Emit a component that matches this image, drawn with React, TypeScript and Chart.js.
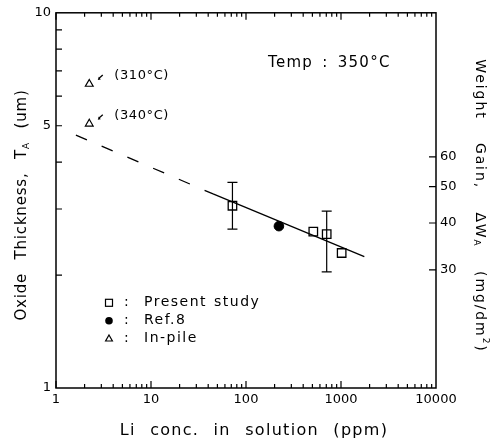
import React, { useEffect, useRef } from 'react';
import { Chart, registerables } from 'chart.js';

Chart.register(...registerables);

// ---------- data ----------
const presentX = [72, 511, 707, 1016];
const presentY = [3.06, 2.61, 2.57, 2.29];
const presentErrLow: (number | null)[] = [2.65, null, 2.04, null];
const presentErrHigh: (number | null)[] = [3.53, null, 2.96, null];

const ref8X = [222];
const ref8Y = [2.7];

const inPileX = [2.24, 2.24];
const inPileY = [6.46, 5.06];
const inPileLabels = ['(310°C)', '(340°C)'];

const fitDashedX = [1.62, 45];
const fitDashedY = [4.72, 3.29];
const fitSolidX = [45, 1760];
const fitSolidY = [3.29, 2.24];

const xTickValues = [1, 10, 100, 1000, 10000];
const xTickLabels = ['1', '10', '100', '1000', '10000'];
const yTickValues = [1, 5, 10];
const yTickLabels = ['1', '5', '10'];
const y2TickValues = [30, 40, 50, 60];
const y2TickLabels = ['30', '40', '50', '60'];
const y2Min = 14.53;
const y2Max = 145.3;

const legendLabels = ['Present study', 'Ref.8', 'In-pile'];
const tempLabel = 'Temp : 350°C';
const xTitle = 'Li conc. in solution (ppm)';

const FAMILY = '"DejaVu Sans", sans-serif';

type Run = { t: string; sub?: boolean; sup?: boolean };

function drawRich(
  ctx: CanvasRenderingContext2D,
  runs: Run[],
  cx: number,
  cy: number,
  angle: number,
  size: number,
  ls: number,
  ws: number
) {
  ctx.save();
  ctx.translate(cx, cy);
  ctx.rotate(angle);
  (ctx as any).letterSpacing = ls + 'px';
  (ctx as any).wordSpacing = ws + 'px';
  const fontFor = (r: Run) => `${r.sub || r.sup ? Math.round(size * 0.62) : size}px ${FAMILY}`;
  let total = 0;
  const widths = runs.map((r) => {
    ctx.font = fontFor(r);
    const w = ctx.measureText(r.t).width;
    total += w;
    return w;
  });
  let x = -total / 2;
  ctx.textBaseline = 'middle';
  ctx.textAlign = 'left';
  ctx.fillStyle = '#000';
  runs.forEach((r, i) => {
    ctx.font = fontFor(r);
    const dy = r.sub ? size * 0.28 : r.sup ? -size * 0.38 : 0;
    ctx.fillText(r.t, x, dy);
    x += widths[i];
  });
  ctx.restore();
}

function pick(values: number[], labels: string[], v: number) {
  const i = values.findIndex((t) => Math.abs(t - v) / t < 1e-6);
  return i >= 0 ? labels[i] : '';
}

const decorPlugin = {
  id: 'decor',
  afterDatasetsDraw(chart: any) {
    const ctx: CanvasRenderingContext2D = chart.ctx;
    const xs = chart.scales.x;
    const ys = chart.scales.y;
    ctx.save();
    ctx.strokeStyle = '#000';
    ctx.lineWidth = 1.2;
    // error bars
    presentX.forEach((xv, i) => {
      const lo = presentErrLow[i];
      const hi = presentErrHigh[i];
      if (lo == null || hi == null) return;
      const px = xs.getPixelForValue(xv);
      const pl = ys.getPixelForValue(lo);
      const ph = ys.getPixelForValue(hi);
      ctx.beginPath();
      ctx.moveTo(px, pl);
      ctx.lineTo(px, ph);
      ctx.moveTo(px - 5, pl);
      ctx.lineTo(px + 5, pl);
      ctx.moveTo(px - 5, ph);
      ctx.lineTo(px + 5, ph);
      ctx.stroke();
    });
    ctx.restore();
  },
  afterDraw(chart: any) {
    const ctx: CanvasRenderingContext2D = chart.ctx;
    const ca = chart.chartArea;
    const xs = chart.scales.x;
    const ys = chart.scales.y;
    const y2 = chart.scales.y2;
    ctx.save();
    ctx.strokeStyle = '#000';
    ctx.fillStyle = '#000';

    // frame
    ctx.lineWidth = 1.5;
    ctx.strokeRect(ca.left, ca.top, ca.right - ca.left, ca.bottom - ca.top);

    // x ticks (top and bottom, inward)
    ctx.lineWidth = 1.2;
    ctx.beginPath();
    for (let k = 0; k < 4; k++) {
      for (let m = 1; m <= 9; m++) {
        const v = m * Math.pow(10, k);
        const px = xs.getPixelForValue(v);
        const len = m === 1 ? 7 : 4;
        ctx.moveTo(px, ca.bottom);
        ctx.lineTo(px, ca.bottom - len);
        ctx.moveTo(px, ca.top);
        ctx.lineTo(px, ca.top + len);
      }
    }
    // left y ticks
    for (let m = 2; m <= 9; m++) {
      const py = ys.getPixelForValue(m);
      ctx.moveTo(ca.left, py);
      ctx.lineTo(ca.left + 6, py);
    }
    // right y2 ticks
    y2TickValues.forEach((v) => {
      const py = y2.getPixelForValue(v);
      ctx.moveTo(ca.right, py);
      ctx.lineTo(ca.right - 7, py);
    });
    ctx.stroke();

    // in-pile annotations with little arrows
    inPileX.forEach((xv, i) => {
      const px = xs.getPixelForValue(xv);
      const py = ys.getPixelForValue(inPileY[i]);
      ctx.lineWidth = 1.3;
      ctx.beginPath();
      ctx.moveTo(px + 13.5, py - 9);
      ctx.lineTo(px + 9.5, py - 5.5);
      ctx.stroke();
      ctx.beginPath();
      ctx.moveTo(px + 8.5, py - 4);
      ctx.lineTo(px + 11.5, py - 4.6);
      ctx.lineTo(px + 9.6, py - 7.2);
      ctx.closePath();
      ctx.fill();
      ctx.font = `13px ${FAMILY}`;
      (ctx as any).letterSpacing = '0.6px';
      ctx.textAlign = 'left';
      ctx.textBaseline = 'middle';
      ctx.fillText(inPileLabels[i], px + 25, py - 8.5);
    });

    // Temp label
    ctx.font = `15px ${FAMILY}`;
    (ctx as any).letterSpacing = '1.3px';
    (ctx as any).wordSpacing = '3px';
    ctx.textAlign = 'left';
    ctx.textBaseline = 'middle';
    ctx.fillText(tempLabel, ca.left + 212, ca.top + 50);

    // legend
    const lx = ca.left + 53;
    const rows = [ca.top + 290, ca.top + 308, ca.top + 326];
    ctx.lineWidth = 1.2;
    ctx.strokeRect(lx - 3.5, rows[0] - 3.5, 7, 7);
    ctx.beginPath();
    ctx.arc(lx, rows[1], 3.8, 0, Math.PI * 2);
    ctx.fill();
    ctx.beginPath();
    ctx.moveTo(lx, rows[2] - 3.8);
    ctx.lineTo(lx + 3.4, rows[2] + 2.2);
    ctx.lineTo(lx - 3.4, rows[2] + 2.2);
    ctx.closePath();
    ctx.stroke();
    ctx.font = `14px ${FAMILY}`;
    (ctx as any).letterSpacing = '1.5px';
    (ctx as any).wordSpacing = '1px';
    legendLabels.forEach((t, i) => {
      ctx.textAlign = 'center';
      ctx.fillText(':', lx + 18, rows[i]);
      ctx.textAlign = 'left';
      ctx.fillText(t, lx + 35, rows[i]);
    });
    (ctx as any).letterSpacing = '0px';
    (ctx as any).wordSpacing = '0px';
    ctx.restore();

    // axis titles
    drawRich(ctx, [{ t: xTitle }], (ca.left + ca.right) / 2 + 8, 431, 0, 16, 1.3, 8);
    drawRich(
      ctx,
      [{ t: 'Oxide Thickness, T' }, { t: 'A', sub: true }, { t: ' (um)' }],
      22,
      205,
      -Math.PI / 2,
      15,
      0.8,
      8
    );
    drawRich(
      ctx,
      [{ t: 'Weight Gain, ΔW' }, { t: 'A', sub: true }, { t: ' (mg/dm' }, { t: '2', sup: true }, { t: ')' }],
      480,
      206,
      Math.PI / 2,
      14,
      1.9,
      17
    );
  },
};

export default function App() {
  const ref = useRef<HTMLCanvasElement | null>(null);
  useEffect(() => {
    document.body.style.margin = '0';
    const canvas = ref.current;
    if (!canvas) return;
    const tickFont = { family: FAMILY, size: 13 };
    const chart = new Chart(canvas, {
      type: 'scatter',
      data: {
        datasets: [
          {
            label: 'fit-dashed',
            data: fitDashedX.map((x, i) => ({ x, y: fitDashedY[i] })),
            showLine: true,
            borderColor: '#000',
            borderWidth: 1.3,
            borderDash: [12, 16],
            pointRadius: 0,
          },
          {
            label: 'fit-solid',
            data: fitSolidX.map((x, i) => ({ x, y: fitSolidY[i] })),
            showLine: true,
            borderColor: '#000',
            borderWidth: 1.3,
            pointRadius: 0,
          },
          {
            label: 'Present study',
            data: presentX.map((x, i) => ({ x, y: presentY[i] })),
            pointStyle: 'rect',
            pointRadius: 6,
            borderColor: '#000',
            backgroundColor: 'rgba(0,0,0,0)',
            borderWidth: 1.3,
          },
          {
            label: 'Ref.8',
            data: ref8X.map((x, i) => ({ x, y: ref8Y[i] })),
            pointStyle: 'circle',
            pointRadius: 4.8,
            borderColor: '#000',
            backgroundColor: '#000',
            borderWidth: 1,
          },
          {
            label: 'In-pile',
            data: inPileX.map((x, i) => ({ x, y: inPileY[i] })),
            pointStyle: 'triangle',
            pointRadius: 4.5,
            borderColor: '#000',
            backgroundColor: 'rgba(0,0,0,0)',
            borderWidth: 1.2,
          },
        ],
      },
      options: {
        responsive: false,
        animation: false,
        layout: { padding: { top: 10, left: 0, right: 0, bottom: 0 } },
        plugins: { legend: { display: false }, tooltip: { enabled: false } },
        scales: {
          x: {
            type: 'logarithmic',
            position: 'bottom',
            min: 1,
            max: 10000,
            grid: { display: false, drawTicks: false },
            border: { display: false },
            afterBuildTicks: (s: any) => {
              s.ticks = xTickValues.map((v) => ({ value: v }));
            },
            afterFit: (s: any) => {
              s.height = 58;
            },
            ticks: {
              autoSkip: false,
              maxRotation: 0,
              minRotation: 0,
              padding: 4,
              color: '#000',
              font: tickFont,
              callback: (v: any) => pick(xTickValues, xTickLabels, Number(v)),
            },
          },
          y: {
            type: 'logarithmic',
            position: 'left',
            min: 1,
            max: 10,
            grid: { display: false, drawTicks: false },
            border: { display: false },
            afterBuildTicks: (s: any) => {
              s.ticks = yTickValues.map((v) => ({ value: v }));
            },
            afterFit: (s: any) => {
              s.width = 56;
            },
            ticks: {
              autoSkip: false,
              padding: 5,
              color: '#000',
              font: tickFont,
              callback: (v: any) => pick(yTickValues, yTickLabels, Number(v)),
            },
          },
          y2: {
            type: 'logarithmic',
            position: 'right',
            min: y2Min,
            max: y2Max,
            grid: { display: false, drawTicks: false },
            border: { display: false },
            afterBuildTicks: (s: any) => {
              s.ticks = y2TickValues.map((v) => ({ value: v }));
            },
            afterFit: (s: any) => {
              s.width = 57;
            },
            ticks: {
              autoSkip: false,
              padding: 4,
              color: '#000',
              font: tickFont,
              callback: (v: any) => pick(y2TickValues, y2TickLabels, Number(v)),
            },
          },
        },
      } as any,
      plugins: [decorPlugin],
    });
    return () => chart.destroy();
  }, []);
  return <canvas ref={ref} width={493} height={446} style={{ display: 'block' }} />;
}
